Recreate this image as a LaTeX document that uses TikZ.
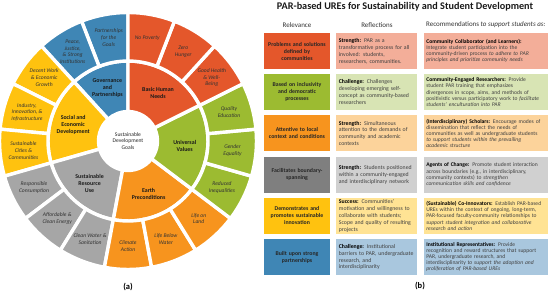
\documentclass[tikz,border=0pt]{standalone}
\usepackage{fontspec}
\setmainfont{Carlito}
\usepackage{xcolor}
\usepackage{tikz}
\usetikzlibrary{positioning}
\definecolor{basic}{HTML}{E4572B}
\definecolor{basiclight}{HTML}{F3AE99}
\definecolor{values}{HTML}{9CBB31}
\definecolor{valueslight}{HTML}{D8E4B4}
\definecolor{earth}{HTML}{F7941E}
\definecolor{earthlight}{HTML}{FCD39B}
\definecolor{resource}{HTML}{A6A6A6}
\definecolor{resourcedark}{HTML}{7F7F7F}
\definecolor{resourcelight}{HTML}{D0D0D0}
\definecolor{social}{HTML}{FFC20F}
\definecolor{sociallight}{HTML}{FFE394}
\definecolor{govern}{HTML}{3F86B5}
\definecolor{governlight}{HTML}{A9C7DE}

\begin{document}
\begin{tikzpicture}[x=1pt, y=1pt,
    wedge/.style={draw=white, line width=3.4pt, line join=miter},
    goal/.style={align=center, inner sep=0pt, text=black!80, font=\fontsize{5.6}{6.8}\selectfont\itshape},
    group/.style={align=center, inner sep=0pt, text=black!90, font=\fontsize{5.9}{7}\selectfont\bfseries},
    centre/.style={align=center, inner sep=0pt, text=black!85, font=\fontsize{5.6}{6.7}\selectfont},
    relbox/.style={rectangle, minimum height=36pt, text width=61pt, inner xsep=2.5pt, inner ysep=0.5pt, align=center, text=black!85, font=\fontsize{5.8}{7}\selectfont\bfseries},
    reflbox/.style={rectangle, minimum height=36pt, text width=76pt, inner xsep=2.5pt, inner ysep=0.5pt, align=left, text=black!75, font=\fontsize{5.8}{6.9}\selectfont},
    recbox/.style={rectangle, minimum height=36pt, text width=119pt, inner xsep=2.5pt, inner ysep=0.5pt, align=left, text=black!75, font=\fontsize{5.6}{6.2}\selectfont},
    head/.style={inner sep=0pt, text=black!80, font=\fontsize{7}{8}\selectfont},
    title/.style={inner sep=0pt, text=black!90, font=\fontsize{10.2}{12}\selectfont\bfseries},
    panel/.style={inner sep=0pt, font=\fontsize{8.5}{10}\selectfont\bfseries}
]
    \useasboundingbox (0,0) rectangle (550,294);

    % (a) SDG wheel
    \begin{scope}[shift={(128,153)}]
        % inner ring
        \filldraw[wedge, fill=govern] (90:29.5pt) arc[start angle=90, end angle=132.35, radius=29.5pt] -- (132.35:80pt) arc[start angle=132.35, end angle=90, radius=80pt] -- cycle;
        \filldraw[wedge, fill=social] (132.35:29.5pt) arc[start angle=132.35, end angle=195.88, radius=29.5pt] -- (195.88:80pt) arc[start angle=195.88, end angle=132.35, radius=80pt] -- cycle;
        \filldraw[wedge, fill=resource] (195.88:29.5pt) arc[start angle=195.88, end angle=259.41, radius=29.5pt] -- (259.41:80pt) arc[start angle=259.41, end angle=195.88, radius=80pt] -- cycle;
        \filldraw[wedge, fill=earth] (259.41:29.5pt) arc[start angle=259.41, end angle=322.94, radius=29.5pt] -- (322.94:80pt) arc[start angle=322.94, end angle=259.41, radius=80pt] -- cycle;
        \filldraw[wedge, fill=values] (322.94:29.5pt) arc[start angle=322.94, end angle=386.47, radius=29.5pt] -- (386.47:80pt) arc[start angle=386.47, end angle=322.94, radius=80pt] -- cycle;
        \filldraw[wedge, fill=basic] (26.47:29.5pt) arc[start angle=26.47, end angle=90, radius=29.5pt] -- (90:80pt) arc[start angle=90, end angle=26.47, radius=80pt] -- cycle;

        % outer ring
        \filldraw[wedge, fill=govern] (90:80pt) arc[start angle=90, end angle=111.18, radius=80pt] -- (111.18:128.5pt) arc[start angle=111.18, end angle=90, radius=128.5pt] -- cycle;
        \filldraw[wedge, fill=govern] (111.18:80pt) arc[start angle=111.18, end angle=132.35, radius=80pt] -- (132.35:128.5pt) arc[start angle=132.35, end angle=111.18, radius=128.5pt] -- cycle;
        \filldraw[wedge, fill=social] (132.35:80pt) arc[start angle=132.35, end angle=153.53, radius=80pt] -- (153.53:128.5pt) arc[start angle=153.53, end angle=132.35, radius=128.5pt] -- cycle;
        \filldraw[wedge, fill=social] (153.53:80pt) arc[start angle=153.53, end angle=174.71, radius=80pt] -- (174.71:128.5pt) arc[start angle=174.71, end angle=153.53, radius=128.5pt] -- cycle;
        \filldraw[wedge, fill=social] (174.71:80pt) arc[start angle=174.71, end angle=195.88, radius=80pt] -- (195.88:128.5pt) arc[start angle=195.88, end angle=174.71, radius=128.5pt] -- cycle;
        \filldraw[wedge, fill=resource] (195.88:80pt) arc[start angle=195.88, end angle=217.06, radius=80pt] -- (217.06:128.5pt) arc[start angle=217.06, end angle=195.88, radius=128.5pt] -- cycle;
        \filldraw[wedge, fill=resource] (217.06:80pt) arc[start angle=217.06, end angle=238.24, radius=80pt] -- (238.24:128.5pt) arc[start angle=238.24, end angle=217.06, radius=128.5pt] -- cycle;
        \filldraw[wedge, fill=resource] (238.24:80pt) arc[start angle=238.24, end angle=259.41, radius=80pt] -- (259.41:128.5pt) arc[start angle=259.41, end angle=238.24, radius=128.5pt] -- cycle;
        \filldraw[wedge, fill=earth] (259.41:80pt) arc[start angle=259.41, end angle=280.59, radius=80pt] -- (280.59:128.5pt) arc[start angle=280.59, end angle=259.41, radius=128.5pt] -- cycle;
        \filldraw[wedge, fill=earth] (280.59:80pt) arc[start angle=280.59, end angle=301.76, radius=80pt] -- (301.76:128.5pt) arc[start angle=301.76, end angle=280.59, radius=128.5pt] -- cycle;
        \filldraw[wedge, fill=earth] (301.76:80pt) arc[start angle=301.76, end angle=322.94, radius=80pt] -- (322.94:128.5pt) arc[start angle=322.94, end angle=301.76, radius=128.5pt] -- cycle;
        \filldraw[wedge, fill=values] (322.94:80pt) arc[start angle=322.94, end angle=344.12, radius=80pt] -- (344.12:128.5pt) arc[start angle=344.12, end angle=322.94, radius=128.5pt] -- cycle;
        \filldraw[wedge, fill=values] (344.12:80pt) arc[start angle=344.12, end angle=365.29, radius=80pt] -- (365.29:128.5pt) arc[start angle=365.29, end angle=344.12, radius=128.5pt] -- cycle;
        \filldraw[wedge, fill=values] (365.29:80pt) arc[start angle=365.29, end angle=386.47, radius=80pt] -- (386.47:128.5pt) arc[start angle=386.47, end angle=365.29, radius=128.5pt] -- cycle;
        \filldraw[wedge, fill=basic] (26.47:80pt) arc[start angle=26.47, end angle=47.65, radius=80pt] -- (47.65:128.5pt) arc[start angle=47.65, end angle=26.47, radius=128.5pt] -- cycle;
        \filldraw[wedge, fill=basic] (47.65:80pt) arc[start angle=47.65, end angle=68.82, radius=80pt] -- (68.82:128.5pt) arc[start angle=68.82, end angle=47.65, radius=128.5pt] -- cycle;
        \filldraw[wedge, fill=basic] (68.82:80pt) arc[start angle=68.82, end angle=90, radius=80pt] -- (90:128.5pt) arc[start angle=90, end angle=68.82, radius=128.5pt] -- cycle;

        % centre and groups
        \node[centre] (sdg) at (0,0) {Sustainable\\Development\\Goals};
        \node[group] (gov) at (111.2:57pt) {Governance\\and\\Partnerships};
        \node[group] (soc) at (164.1:57pt) {Social and\\Economic\\Development};
        \node[group] (res) at (227.6:57pt) {Sustainable\\Resource\\Use};
        \node[group] (ear) at (291.2:57pt) {Earth\\Preconditions};
        \node[group] (val) at (354.7:57pt) {Universal\\Values};
        \node[group] (bas) at (58.2:57pt) {Basic Human\\Needs};

        % goals
        \node[goal] (g1) at (79.41:105pt) {No Poverty};
        \node[goal] (g2) at (58.24:105pt) {Zero\\Hunger};
        \node[goal] (g3) at (37.06:105pt) {Good Health\\\& Well-\\Being};
        \node[goal] (g4) at (15.88:105pt) {Quality\\Education};
        \node[goal] (g5) at (354.71:105pt) {Gender\\Equality};
        \node[goal] (g10) at (333.53:105pt) {Reduced\\Inequalities};
        \node[goal] (g15) at (312.35:105pt) {Life on\\Land};
        \node[goal] (g14) at (291.18:105pt) {Life Below\\Water};
        \node[goal] (g13) at (270:105pt) {Climate\\Action};
        \node[goal] (g6) at (248.82:105pt) {Clean Water \&\\Sanitation};
        \node[goal] (g7) at (227.65:105pt) {Affordable \&\\Clean Energy};
        \node[goal] (g12) at (206.47:105pt) {Responsible\\Consumption};
        \node[goal] (g11) at (185.29:105pt) {Sustainable\\Cities \&\\Communities};
        \node[goal] (g9) at (164.12:105pt) {Industry,\\Innovation, \&\\Infrastructure};
        \node[goal] (g8) at (142.94:105pt) {Decent Work\\\& Economic\\Growth};
        \node[goal] (g16) at (121.76:105pt) {Peace,\\Justice,\\\& Strong\\Institutions};
        \node[goal] (g17) at (100.59:105pt) {Partnerships\\for the\\Goals};
    \end{scope}
    \node[panel] (pa) at (128,7) {(a)};

    % (b) table
    \node[title] (ttl) at (405,287) {PAR-based UREs for Sustainability and Student Development};

    % relevance column
    \node[relbox, fill=basic] (rel1) at (297,243) {Problems and solutions\\defined by\\communities};
    \node[relbox, fill=values, below=4.8pt of rel1] (rel2) {Based on inclusivity\\and democratic\\processes};
    \node[relbox, fill=earth, below=4.8pt of rel2] (rel3) {Attentive to local\\context and conditions};
    \node[relbox, fill=resourcedark, below=4.8pt of rel3] (rel4) {Facilitates boundary-\\spanning};
    \node[relbox, fill=social, below=4.8pt of rel4] (rel5) {Demonstrates and\\promotes sustainable\\innovation};
    \node[relbox, fill=govern, below=4.8pt of rel5] (rel6) {Built upon strong\\partnerships};

    % reflections column
    \node[reflbox, fill=basiclight, right=6pt of rel1] (refl1) {\textbf{\color{black}Strength:} PAR as a\\transformative process for all\\involved: students,\\researchers, communities.};
    \node[reflbox, fill=valueslight, right=6pt of rel2] (refl2) {\textbf{\color{black}Challenge:} Challenges\\developing emerging self-\\concept as community-based\\researchers};
    \node[reflbox, fill=earthlight, right=6pt of rel3] (refl3) {\textbf{\color{black}Strength:} Simultaneous\\attention to the demands of\\community and academic\\contexts};
    \node[reflbox, fill=resourcelight, right=6pt of rel4] (refl4) {\textbf{\color{black}Strength:} Students positioned\\within a community-engaged\\and interdisciplinary network};
    \node[reflbox, fill=sociallight, right=6pt of rel5] (refl5) {\textbf{\color{black}Success:} Communities'\\motivation and willingness to\\collaborate with students;\\Scope and quality of resulting\\projects};
    \node[reflbox, fill=governlight, right=6pt of rel6] (refl6) {\textbf{\color{black}Challenge:} Institutional\\barriers to PAR, undergraduate\\research, and\\interdisciplinarity};

    % recommendations column
    \node[recbox, fill=basiclight, right=6pt of refl1] (rec1) {\textbf{\color{black}Community Collaborator (and Learners):}\\Integrate student participation into the\\community-driven process \textit{to adhere to PAR}\\\textit{principles and prioritize community needs}};
    \node[recbox, fill=valueslight, right=6pt of refl2] (rec2) {\textbf{\color{black}Community-Engaged Researchers:} Provide\\student PAR training that emphasizes\\divergences in scope, aims, and methods of\\positivistic versus participatory work \textit{to facilitate}\\\textit{students' enculturation into PAR}};
    \node[recbox, fill=earthlight, right=6pt of refl3] (rec3) {\textbf{\color{black}(Interdisciplinary) Scholars:} Encourage modes of\\dissemination that reflect the needs of\\communities as well as undergraduate students\\\textit{to support students within the prevailing}\\\textit{academic structure}};
    \node[recbox, fill=resourcelight, right=6pt of refl4] (rec4) {\textbf{\color{black}Agents of Change:} Promote student interaction\\across boundaries (e.g., in interdisciplinary,\\community contexts) \textit{to strengthen}\\\textit{communication skills and confidence}};
    \node[recbox, fill=sociallight, right=6pt of refl5] (rec5) {\textbf{\color{black}(Sustainable) Co-Innovators:} Establish PAR-based\\UREs within the context of ongoing, long-term,\\PAR-focused faculty-community relationships \textit{to}\\\textit{support student integration and collaborative}\\\textit{research and action}};
    \node[recbox, fill=governlight, right=6pt of refl6] (rec6) {\textbf{\color{black}Institutional Representatives:} Provide\\recognition and reward structures that support\\PAR, undergraduate research, and\\interdisciplinarity \textit{to support the adoption and}\\\textit{proliferation of PAR-based UREs}};

    % headers
    \node[head, above=5pt of rel1] (hrel) {Relevance};
    \node[head, above=5pt of refl1] (hrefl) {Reflections};
    \node[head, above=5pt of rec1] (hrec) {Recommendations \textit{to support students as:}};

    \node[panel] (pb) at (420,8) {(b)};
\end{tikzpicture}
\end{document}
